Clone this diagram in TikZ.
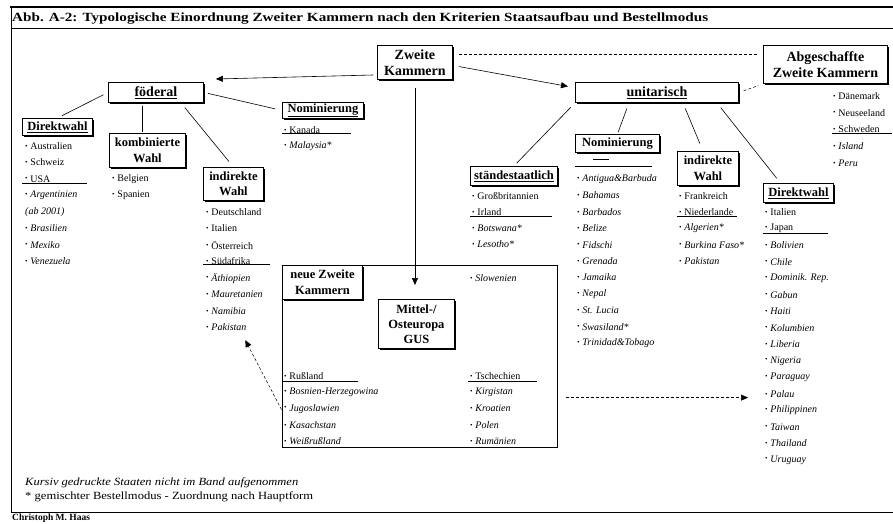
\documentclass[tikz,border=0pt]{standalone}
\usepackage{fontspec}
\setmainfont{Liberation Serif}
\usepackage{graphicx}
\usetikzlibrary{shadows,arrows.meta}
\newcommand\bul{\raisebox{0.12em}{\fontsize{7}{7}\selectfont\textbullet}\hspace{0.28em}}
\newcommand\itemcol[5]{\foreach \t [count=\i] in {#5}{\node[item] (#1\i) at (#2,{#3+(\i-1)*#4}) {\t};}}
\begin{document}
\begin{tikzpicture}[x=1pt,y=-1pt,
  hbox/.style={draw, line width=0.9pt, fill=white, inner sep=1pt, align=center,
    font=\bfseries\fontsize{12.5}{15.5}\selectfont, anchor=north west,
    drop shadow={shadow xshift=1.3pt, shadow yshift=-1.3pt, fill=black, opacity=1}},
  topbox/.style={hbox, font=\bfseries\fontsize{14}{16}\selectfont},
  item/.style={anchor=west, inner sep=0pt, font=\fontsize{10}{12}\selectfont},
  conn/.style={line width=0.6pt},
  arr/.style={conn, -{Triangle[length=7pt,width=6pt]}},
  dline/.style={line width=0.5pt, dash pattern=on 3pt off 2pt},
  darr/.style={dline, -{Triangle[length=7pt,width=6pt]}},
  sep/.style={line width=0.6pt}
]
\useasboundingbox (0,0) rectangle (893,524);
% frame
\draw[line width=1.5pt] (10,7) -- (893,7);
\draw[line width=0.9pt] (11,7) -- (11,512);
\draw[line width=0.9pt] (11,28.5) -- (893,28.5);
\draw[line width=0.9pt] (11,512) -- (893,512);
\node[anchor=west, inner sep=0pt, font=\bfseries\fontsize{12.5}{14}\selectfont] (title) at (12,18)
  {\resizebox{696pt}{\height}{Abb. A-2: Typologische Einordnung Zweiter Kammern nach den Kriterien Staatsaufbau und Bestellmodus}};

% top boxes
\node[topbox, minimum width=75pt, minimum height=34pt] (zk) at (377,45) {Zweite\\Kammern};
\node[topbox, minimum width=124pt, minimum height=38pt] (abg) at (763,45) {Abgeschaffte\\Zweite Kammern};
\node[topbox, minimum width=95pt, minimum height=20pt] (foed) at (108,82) {\underline{föderal}};
\node[topbox, minimum width=163pt, minimum height=20pt] (unit) at (575,82) {\underline{unitarisch}};

% second-level boxes
\node[hbox, minimum width=70pt, minimum height=17pt] (dw1) at (22,118) {\underline{Direktwahl}};
\node[hbox, minimum width=76pt, minimum height=34pt] (komb) at (109,133) {kombinierte\\Wahl};
\node[hbox, minimum width=60pt, minimum height=33pt] (ind1) at (203,167) {indirekte\\Wahl};
\node[hbox, minimum width=81pt, minimum height=16pt] (nom1) at (282,102) {\underline{Nominierung}};
\node[hbox, minimum width=87pt, minimum height=19pt] (stand) at (470,166) {\underline{ständestaatlich}};
\node[hbox, minimum width=84pt, minimum height=18pt] (nom2) at (575,134) {Nominierung};
\node[hbox, minimum width=61pt, minimum height=34pt] (ind2) at (677,151) {indirekte\\Wahl};
\node[hbox, minimum width=70pt, minimum height=19pt] (dw2) at (763,183) {\underline{Direktwahl}};

% region of new second chambers
\node[draw, line width=1.2pt, anchor=north west, minimum width=275pt, minimum height=182pt, inner sep=0pt] (region) at (282,265) {};
\node[hbox, minimum width=80pt, minimum height=34pt] (neue) at (282,265) {neue Zweite\\Kammern};
\node[hbox, minimum width=76pt, minimum height=49pt, font=\bfseries\fontsize{12.5}{15}\selectfont] (mittel) at (378,299) {Mittel-/\\Osteuropa\\GUS};

% item lists
\itemcol{a}{25}{146}{16.43}{\bul Australien, \bul Schweiz, \bul USA, {\itshape\bul Argentinien}, {\itshape (ab 2001)}, {\itshape\bul Brasilien}, {\itshape\bul Mexiko}, {\itshape\bul Venezuela}}
\itemcol{b}{112}{179}{16}{\bul Belgien, \bul Spanien}
\itemcol{c}{206}{212}{16.5}{\bul Deutschland, \bul Italien, \bul Österreich, \bul Südafrika, {\itshape\bul Äthiopien}, {\itshape\bul Mauretanien}, {\itshape\bul Namibia}, {\itshape\bul Pakistan}}
\itemcol{d}{284}{130}{16}{\bul Kanada, {\itshape\bul Malaysia*}}
\itemcol{e}{472}{196}{16}{\bul Großbritannien, \bul Irland, {\itshape\bul Botswana*}, {\itshape\bul Lesotho*}}
\itemcol{f}{577}{179}{16.4}{{\itshape\bul Antigua\&Barbuda}, {\itshape\bul Bahamas}, {\itshape\bul Barbados}, {\itshape\bul Belize}, {\itshape\bul Fidschi}, {\itshape\bul Grenada}, {\itshape\bul Jamaika}, {\itshape\bul Nepal}, {\itshape\bul St. Lucia}, {\itshape\bul Swasiland*}, {\itshape\bul Trinidad\&Tobago}}
\itemcol{g}{679}{196}{16.25}{\bul Frankreich, \bul Niederlande, {\itshape\bul Algerien*}, {\itshape\bul Burkina Faso*}, {\itshape\bul Pakistan}}
\itemcol{h}{765}{212}{16.53}{\bul Italien, \bul Japan, {\itshape\bul Bolivien}, {\itshape\bul Chile}, {\itshape\bul Dominik. Rep.}, {\itshape\bul Gabun}, {\itshape\bul Haiti}, {\itshape\bul Kolumbien}, {\itshape\bul Liberia}, {\itshape\bul Nigeria}, {\itshape\bul Paraguay}, {\itshape\bul Palau}, {\itshape\bul Philippinen}, {\itshape\bul Taiwan}, {\itshape\bul Thailand}, {\itshape\bul Uruguay}}
\itemcol{k}{833}{96}{16.75}{\bul Dänemark, \bul Neuseeland, \bul Schweden, {\itshape\bul Island}, {\itshape\bul Peru}}
\itemcol{m}{284}{376}{16.3}{\bul Rußland, {\itshape\bul Bosnien-Herzegowina}, {\itshape\bul Jugoslawien}, {\itshape\bul Kasachstan}, {\itshape\bul Weißrußland}}
\itemcol{n}{470}{376}{16.3}{\bul Tschechien, {\itshape\bul Kirgistan}, {\itshape\bul Kroatien}, {\itshape\bul Polen}, {\itshape\bul Rumänien}}
\node[item] (slo) at (470,278) {\itshape\bul Slowenien};

% separator lines
\draw[sep] (22,183) -- (87,183);
\draw[sep] (203,264) -- (270,264);
\draw[sep] (282,133) -- (351,133);
\draw[sep] (470,216) -- (552,216);
\draw[sep] (593,159) -- (609,159);
\draw[sep] (575,166) -- (652,166);
\draw[sep] (677,216) -- (737,216);
\draw[sep] (763,233) -- (828,233);
\draw[sep] (832,133) -- (892,133);
\draw[sep] (282,381) -- (358,381);
\draw[sep] (468,381) -- (537,381);

% connectors from Zweite Kammern
\draw[arr, shorten <=4pt] ([yshift=5pt]zk.south west) -- ([xshift=12pt,yshift=3pt]foed.north east);
\draw[arr, shorten <=6pt] ([yshift=-3pt]zk.east) -- ([xshift=-7pt,yshift=6pt]unit.west);
\draw[arr, shorten <=8pt, shorten >=14pt] (zk.south) -- (zk.south |- mittel.north);
\draw[dline, shorten <=6pt, shorten >=6pt] ([yshift=8pt]zk.east) -- ([yshift=8pt]zk.east -| abg.west);
\draw[dline, shorten <=5pt, shorten >=5pt] (unit.east) -- (abg.south west);

% föderal branches
\draw[conn, shorten <=5pt, shorten >=5pt] (foed.west) -- (dw1.north);
\draw[conn, shorten <=3pt, shorten >=1pt] ([xshift=-5pt]komb.north |- foed.south) -- ([xshift=-5pt]komb.north);
\draw[conn, shorten <=6pt, shorten >=7pt] ([xshift=25pt]foed.south) -- (ind1.north);
\draw[conn, shorten <=4pt, shorten >=7pt] (foed.east) -- (nom1.west);

% unitarisch branches
\draw[conn, shorten <=6pt, shorten >=4pt] (unit.south west) -- (stand.north);
\draw[conn, shorten <=6pt, shorten >=2pt] ([xshift=-28pt]unit.south) -- (nom2.north);
\draw[conn, shorten <=6pt, shorten >=8pt] ([xshift=26pt]unit.south) -- ([xshift=-5pt]ind2.north);
\draw[conn, shorten <=6pt, shorten >=6pt] ([xshift=60pt]unit.south) -- ([xshift=-18pt]dw2.north);

% dashed arrows from the region
\draw[darr, shorten <=1pt, shorten >=10pt] ([yshift=-54pt]region.west) -- ([xshift=-6pt]c8.south east);
\draw[darr, shorten <=8pt, shorten >=17pt] ([yshift=-41pt]region.east) -- ([yshift=-41pt]region.east -| h12.west);

% notes
\node[anchor=west, inner sep=0pt, font=\itshape\fontsize{11}{13}\selectfont] (note1) at (25,483)
  {\resizebox{273pt}{\height}{Kursiv gedruckte Staaten nicht im Band aufgenommen}};
\node[anchor=west, inner sep=0pt, font=\fontsize{11}{13}\selectfont] (note2) at (25,497)
  {\resizebox{288pt}{\height}{* gemischter Bestellmodus - Zuordnung nach Hauptform}};
\node[anchor=north west, inner sep=0pt, font=\bfseries\fontsize{9.5}{11}\selectfont] (author) at (12,514) {Christoph M. Haas};
\end{tikzpicture}
\end{document}
